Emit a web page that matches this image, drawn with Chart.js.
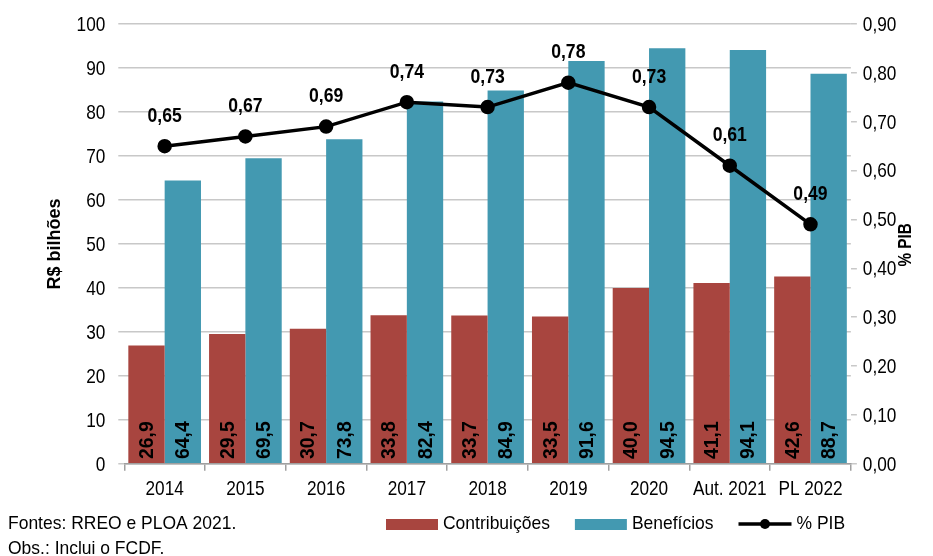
<!DOCTYPE html>
<html>
<head>
<meta charset="utf-8">
<script src="https://cdn.jsdelivr.net/npm/chart.js@4/dist/chart.umd.min.js"></script>
<style>
  html, body { margin: 0; padding: 0; background: #fff; }
  #wrap { width: 933px; height: 556px; }
</style>
</head>
<body>
<div id="wrap"><canvas id="chart"></canvas></div>
<script>
const anos = ['2014', '2015', '2016', '2017', '2018', '2019', '2020', 'Aut. 2021', 'PL 2022'];
const contribuicoes = [26.9, 29.5, 30.7, 33.8, 33.7, 33.5, 40.0, 41.1, 42.6];
const beneficios = [64.4, 69.5, 73.8, 82.4, 84.9, 91.6, 94.5, 94.1, 88.7];
const pctPib = [0.65, 0.67, 0.69, 0.74, 0.73, 0.78, 0.73, 0.61, 0.49];
const notas = ['Fontes: RREO e PLOA 2021.', 'Obs.: Inclui o FCDF.'];

const FONT = "'Liberation Sans', Arial, sans-serif";
const RED = '#A8453F';
const TEAL = '#4399B1';
const HIDDEN = 'rgba(0,0,0,0)';
// sem Arial Narrow instalada: texto comprimido na horizontal
const SQ_TICKS = 0.82;
const SQ_BARS = 0.97;
const SQ_LINE = 0.88;
const SQ_NOTES = 0.92;

const fmt = (v, d) => v.toFixed(d).replace('.', ',');

function narrowText(ctx, txt, x, y, sq) {
    ctx.save();
    ctx.translate(x, y);
    ctx.scale(sq, 1);
    ctx.fillText(txt, 0, 0);
    ctx.restore();
}

const extras = {
    id: 'extras',
    afterDatasetsDraw(chart) {
        const ctx = chart.ctx;
        ctx.save();
        ctx.fillStyle = '#000';
        // valores dentro das barras
        [0, 1].forEach(i => {
            const meta = chart.getDatasetMeta(i);
            meta.data.forEach((bar, j) => {
                ctx.save();
                ctx.translate(bar.x, bar.base - 4);
                ctx.rotate(-Math.PI / 2);
                ctx.font = 'bold 20px ' + FONT;
                ctx.textAlign = 'left';
                ctx.textBaseline = 'middle';
                narrowText(ctx, fmt(chart.data.datasets[i].data[j], 1), 0, 1, SQ_BARS);
                ctx.restore();
            });
        });
        // rótulos da linha
        const lm = chart.getDatasetMeta(2);
        ctx.font = 'bold 20px ' + FONT;
        ctx.textAlign = 'center';
        ctx.textBaseline = 'middle';
        lm.data.forEach((pt, j) => {
            narrowText(ctx, fmt(chart.data.datasets[2].data[j], 2), pt.x, pt.y - 30, SQ_LINE);
        });
        ctx.restore();
    },
    afterDraw(chart) {
        const ctx = chart.ctx;
        const area = chart.chartArea;
        const { x: sx, y: sy, y1: sy1 } = chart.scales;
        ctx.save();
        ctx.fillStyle = '#000';
        ctx.font = '21px ' + FONT;
        ctx.textBaseline = 'middle';

        // rótulos dos eixos
        ctx.textAlign = 'right';
        sy.ticks.forEach(t => {
            narrowText(ctx, t.label, area.left - 19, sy.getPixelForValue(t.value) + 1, SQ_TICKS);
        });
        ctx.textAlign = 'left';
        sy1.ticks.forEach(t => {
            narrowText(ctx, t.label, area.right + 12, sy1.getPixelForValue(t.value) + 1, SQ_TICKS);
        });
        ctx.textAlign = 'center';
        sx.ticks.forEach((t, i) => {
            narrowText(ctx, t.label, sx.getPixelForTick(i), area.bottom + 25, SQ_TICKS);
        });

        // título do eixo direito, lido de baixo para cima
        ctx.save();
        ctx.translate(906, (area.top + area.bottom) / 2 + 1);
        ctx.rotate(-Math.PI / 2);
        ctx.font = 'bold 18px ' + FONT;
        ctx.textAlign = 'center';
        narrowText(ctx, '% PIB', 0, 0, 0.85);
        ctx.restore();

        ctx.font = '19px ' + FONT;
        ctx.textAlign = 'left';
        narrowText(ctx, notas[0], 8, 524, SQ_NOTES);
        narrowText(ctx, notas[1], 8, 549, SQ_NOTES);

        // legenda
        let x = 386;
        const y = 524;
        [0, 1].forEach(i => {
            const ds = chart.data.datasets[i];
            ctx.fillStyle = ds.backgroundColor;
            ctx.fillRect(x, y - 5, 52, 11);
            ctx.fillStyle = '#000';
            narrowText(ctx, ds.label, x + 57, y, SQ_NOTES);
            x += 57 + ctx.measureText(ds.label).width * SQ_NOTES + 25;
        });
        const ds = chart.data.datasets[2];
        ctx.strokeStyle = '#000';
        ctx.lineWidth = 3.5;
        ctx.beginPath();
        ctx.moveTo(x, y);
        ctx.lineTo(x + 53, y);
        ctx.stroke();
        ctx.beginPath();
        ctx.arc(x + 26.5, y, 5, 0, Math.PI * 2);
        ctx.fill();
        narrowText(ctx, ds.label, x + 58, y, SQ_NOTES);
        ctx.restore();
    }
};

new Chart(document.getElementById('chart').getContext('2d'), {
    type: 'bar',
    data: {
        labels: anos,
        datasets: [
            {
                label: 'Contribuições',
                data: contribuicoes,
                backgroundColor: RED,
                yAxisID: 'y',
                order: 1,
                categoryPercentage: 0.9,
                barPercentage: 1.0
            },
            {
                label: 'Benefícios',
                data: beneficios,
                backgroundColor: TEAL,
                yAxisID: 'y',
                order: 1,
                categoryPercentage: 0.9,
                barPercentage: 1.0
            },
            {
                type: 'line',
                label: '% PIB',
                data: pctPib,
                yAxisID: 'y1',
                borderColor: '#000',
                backgroundColor: '#000',
                borderWidth: 3.5,
                pointRadius: 5.5,
                pointBackgroundColor: '#000',
                tension: 0,
                order: 0
            }
        ]
    },
    options: {
        responsive: true,
        maintainAspectRatio: false,
        animation: false,
        layout: { padding: { top: 24, right: 33, bottom: 46, left: 38 } },
        scales: {
            x: {
                grid: {
                    display: true,
                    drawOnChartArea: false,
                    tickLength: 7,
                    color: '#A0A0A0',
                    lineWidth: 1.5
                },
                border: { color: '#A0A0A0', width: 1.5 },
                ticks: {
                    font: { size: 16, family: FONT },
                    color: HIDDEN,
                    padding: 10,
                    maxRotation: 0,
                    minRotation: 0,
                    autoSkip: false
                }
            },
            y: {
                position: 'left',
                min: 0,
                max: 100,
                ticks: { stepSize: 10, font: { size: 16, family: FONT }, color: HIDDEN, padding: 13 },
                grid: { color: '#C8C8C8', lineWidth: 1.5, tickLength: 6 },
                border: { display: false },
                title: {
                    display: true,
                    text: 'R$ bilhões',
                    font: { size: 18, weight: 'bold', family: FONT },
                    color: '#000',
                    padding: { top: 6, bottom: 0 }
                }
            },
            y1: {
                position: 'right',
                min: 0,
                max: 0.9,
                ticks: {
                    stepSize: 0.1,
                    font: { size: 16, family: FONT },
                    color: HIDDEN,
                    padding: 6,
                    callback: v => fmt(v, 2)
                },
                grid: { drawOnChartArea: false, color: '#C8C8C8', lineWidth: 1.5, tickLength: 6 },
                border: { display: false }
            }
        },
        plugins: {
            legend: { display: false },
            tooltip: { enabled: false }
        }
    },
    plugins: [extras]
});
</script>
</body>
</html>
